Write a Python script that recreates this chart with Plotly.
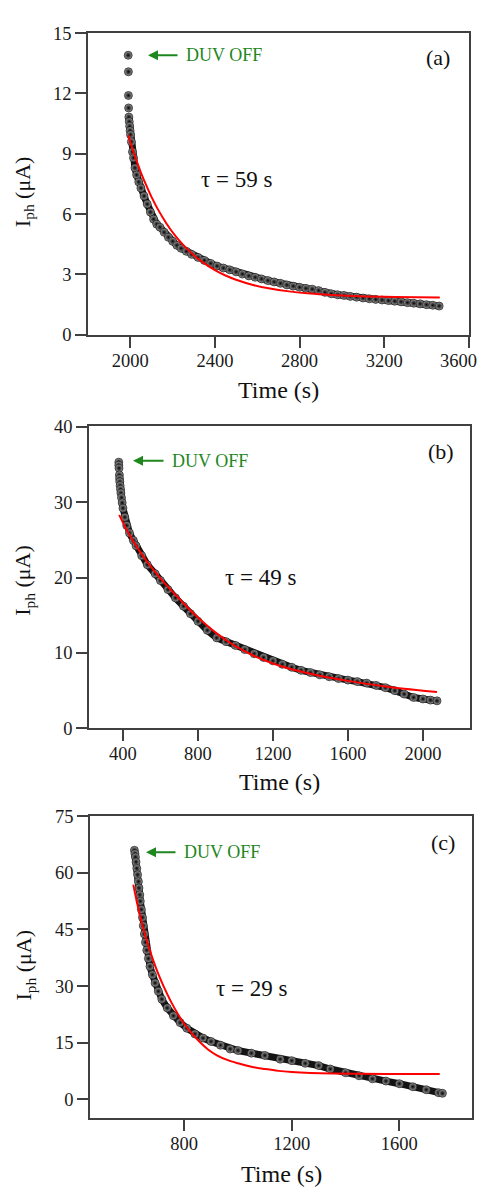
import plotly.graph_objects as go

W, H = 488, 1198
PAD = 8  # default page body margin
FW, FH = W - 2 * PAD, H - 2 * PAD

# ---------------- Panel (a) ----------------
a_time = [1990, 1991, 1991, 1992, 1993, 1995, 1997, 1999, 2001, 2005, 2010, 2015, 2022, 2030,
          2040, 2050, 2065, 2080, 2095, 2110, 2125, 2140, 2160, 2180, 2200, 2220, 2240, 2265,
          2290, 2320, 2350, 2380, 2410, 2440, 2470, 2500, 2530, 2560, 2590, 2620, 2650, 2680,
          2710, 2740, 2770, 2800, 2830, 2860, 2890, 2920, 2950, 2980, 3010, 3040, 3070, 3100,
          3130, 3160, 3190, 3220, 3250, 3280, 3310, 3340, 3370, 3400, 3430, 3460]
a_iph = [13.9, 13.08, 11.9, 11.28, 10.83, 10.6, 10.37, 10.15, 9.95, 9.6, 9.1, 8.8, 8.3, 7.95,
         7.6, 7.3, 6.9, 6.5, 6.1, 5.75, 5.5, 5.35, 5.1, 4.85, 4.65, 4.45, 4.3, 4.15,
         4.0, 3.85, 3.7, 3.55, 3.42, 3.32, 3.23, 3.13, 3.02, 2.93, 2.86, 2.78, 2.7, 2.63,
         2.56, 2.48, 2.42, 2.36, 2.31, 2.27, 2.2, 2.11, 2.04, 1.99, 1.96, 1.91, 1.87, 1.83,
         1.79, 1.76, 1.73, 1.7, 1.67, 1.64, 1.6, 1.57, 1.54, 1.5, 1.47, 1.43]
a_fit_time = [1990, 2010, 2030, 2050, 2075, 2100, 2130, 2170, 2210, 2250, 2300, 2350, 2400,
              2450, 2500, 2580, 2660, 2750, 2850, 2950, 3050, 3200, 3350, 3463]
a_fit_iph = [9.93, 9.25, 8.64, 8.07, 7.44, 6.86, 6.25, 5.55, 4.96, 4.47, 3.96, 3.55, 3.22,
             2.95, 2.74, 2.48, 2.3, 2.16, 2.05, 1.98, 1.93, 1.89, 1.87, 1.86]
a_xticks = [2000, 2400, 2800, 3200, 3600]
a_yticks = [0, 3, 6, 9, 12, 15]

# ---------------- Panel (b) ----------------
b_time = [378, 378, 379, 381, 382, 383, 385, 387, 389, 392, 396, 400, 410, 420, 435, 456,
          470, 500, 530, 572, 600, 640, 680, 723, 760, 800, 850, 900, 950, 1000, 1050, 1100,
          1150, 1200, 1250, 1300, 1350, 1400, 1450, 1500, 1550, 1600, 1650, 1700, 1750, 1800,
          1850, 1900, 1950, 2000, 2040, 2075]
b_iph = [35.3, 34.9, 34.5, 33.6, 33.1, 32.7, 32.2, 31.7, 31.2, 30.6, 29.9, 29.2, 28.0, 26.9,
         25.9, 24.9, 24.2, 22.9, 21.7, 20.5, 19.6, 18.4, 17.3, 16.2, 15.2, 14.2, 13.0, 12.0,
         11.5, 11.0, 10.45, 9.9, 9.4, 8.95, 8.5, 8.1, 7.7, 7.4, 7.1, 6.85, 6.6, 6.4, 6.2,
         6.0, 5.7, 5.4, 5.0, 4.55, 4.1, 3.9, 3.75, 3.65]
b_fit_time = [380, 420, 460, 500, 550, 600, 650, 700, 750, 800, 850, 900, 950, 1000, 1100,
              1200, 1300, 1400, 1500, 1600, 1700, 1800, 1900, 2000, 2075]
b_fit_iph = [28.3, 26.3, 24.6, 23.1, 21.4, 19.9, 18.5, 17.2, 15.9, 14.7, 13.6, 12.6, 11.7,
             10.9, 9.6, 8.6, 7.85, 7.25, 6.75, 6.3, 5.9, 5.55, 5.25, 5.0, 4.82]
b_xticks = [400, 800, 1200, 1600, 2000]
b_yticks = [0, 10, 20, 30, 40]

# ---------------- Panel (c) ----------------
c_time = [615, 617, 619, 621, 624, 627, 630, 632, 635, 637, 641, 645, 648, 652, 656, 661,
          667, 673, 682, 692, 704, 717, 737, 760, 785, 810, 840, 870, 900, 935, 971, 1000,
          1050, 1100, 1157, 1200, 1250, 1300, 1343, 1400, 1450, 1500, 1550, 1600, 1650,
          1700, 1746, 1760]
c_iph = [66.0, 65.1, 64.2, 62.9, 61.2, 59.5, 57.7, 56.0, 54.2, 52.5, 50.3, 48.2, 46.0, 43.8,
         41.6, 39.5, 37.3, 35.2, 33.0, 30.8, 28.6, 26.5, 24.2, 22.1, 20.3, 18.8, 17.3, 16.2,
         15.3, 14.3, 13.3, 12.9, 12.2, 11.6, 10.6, 10.2, 9.5, 8.9, 8.0, 7.0, 6.2, 5.4, 4.8,
         4.1, 3.3, 2.5, 1.7, 1.55]
c_fit_time = [611, 625, 640, 655, 670, 686, 705, 725, 750, 775, 800, 830, 860, 890, 920, 960,
              1000, 1050, 1100, 1150, 1200, 1270, 1350, 1450, 1600, 1750]
c_fit_iph = [56.9, 52.0, 47.5, 43.5, 40.0, 36.6, 33.0, 29.7, 26.0, 22.8, 20.0, 17.3, 15.0,
             13.1, 11.7, 10.4, 9.5, 8.6, 8.0, 7.5, 7.2, 6.95, 6.8, 6.72, 6.7, 6.7]
c_xticks = [800, 1200, 1600]
c_yticks = [0, 15, 30, 45, 60, 75]

panel_labels = ["(a)", "(b)", "(c)"]
tau_labels = ["τ = 59 s", "τ = 49 s", "τ = 29 s"]
duv_label = "DUV OFF"
x_title = "Time (s)"
y_title = "I<sub>ph</sub> (μA)"

FONT = "Liberation Serif"
GREEN = "#1e871e"
AXC = "#404040"
TICKC = "#1a1a1a"


def fx(p):
    return (p - PAD) / FW


def fy(p):
    return 1 - (p - PAD) / FH


panels = [
    dict(t=a_time, i=a_iph, ft=a_fit_time, fi=a_fit_iph, band=4, box=(88, 469, 24, 331),
         xr=[1800, 3601], yr=[0, 15.02], xt=a_xticks, yt=a_yticks,
         arrow=(148, 47), duv=(185, 47), lab=(438, 49), tau=(236, 173),
         xtit=(278, 387), ytit=(24, 186)),
    dict(t=b_time, i=b_iph, ft=b_fit_time, fi=b_fit_iph, band=3, box=(89, 470, 424, 731),
         xr=[219, 2251], yr=[0, 40.05], xt=b_xticks, yt=b_yticks,
         arrow=(133, 459), duv=(171, 459), lab=(441, 450), tau=(260, 578),
         xtit=(279, 786), ytit=(24, 581)),
    dict(t=c_time, i=c_iph, ft=c_fit_time, fi=c_fit_iph, band=0, box=(90, 472, 820, 1127),
         xr=[450, 1870], yr=[-5, 75.1], xt=c_xticks, yt=c_yticks,
         arrow=(146, 857), duv=(183, 857), lab=(443, 847), tau=(252, 995),
         xtit=(281, 1184), ytit=(25, 972)),
]

DUV_W = 78  # approx rendered width of the DUV OFF text in px

fig = go.Figure()
annotations = []
layout_axes = {}

for k, p in enumerate(panels):
    n = "" if k == 0 else str(k + 1)
    xa, ya = "x" + n, "y" + n
    l, r, t, b = p["box"]
    band = p["band"]
    # dense band drawn under the markers
    fig.add_trace(go.Scatter(x=p["t"][band:], y=p["i"][band:], xaxis=xa, yaxis=ya,
                             mode="lines", line=dict(color="#141414", width=7),
                             showlegend=False, hoverinfo="skip"))
    fig.add_trace(go.Scatter(x=p["t"], y=p["i"], xaxis=xa, yaxis=ya, mode="markers",
                             marker=dict(size=8, color="#a0a0a0",
                                         gradient=dict(type="radial", color="#000000"),
                                         line=dict(color="#000000", width=0.6)),
                             showlegend=False))
    fig.add_trace(go.Scatter(x=p["ft"], y=p["fi"], xaxis=xa, yaxis=ya, mode="lines",
                             line=dict(color="#ff0000", width=2, shape="spline"),
                             showlegend=False))
    common = dict(showline=True, linecolor=AXC, linewidth=1.5, mirror=True,
                  ticks="outside", ticklen=11, tickwidth=1.5, tickcolor=AXC,
                  showgrid=False, zeroline=False,
                  tickfont=dict(family=FONT, size=18.5, color=TICKC))
    layout_axes["xaxis" + n] = dict(domain=[fx(l), fx(r)], range=p["xr"], tickvals=p["xt"],
                                    anchor=ya, ticklabelstandoff=-3, **common)
    layout_axes["yaxis" + n] = dict(domain=[fy(b), fy(t)], range=p["yr"], tickvals=p["yt"],
                                    anchor=xa, **common)

    # arrow + "DUV OFF" label
    ax_, ay_ = p["arrow"]
    dx, dy = p["duv"]
    annotations.append(dict(x=fx(ax_), y=fy(ay_), xref="paper", yref="paper",
                            text=duv_label, showarrow=True,
                            ax=(dx + DUV_W / 2) - ax_, ay=0,
                            arrowhead=2, arrowsize=1, arrowwidth=2, arrowcolor=GREEN,
                            startstandoff=8, borderpad=0,
                            font=dict(family=FONT, size=18, color=GREEN)))
    lx, ly = p["lab"]
    annotations.append(dict(x=fx(lx), y=fy(ly), xref="paper", yref="paper",
                            text=panel_labels[k], showarrow=False, xanchor="center",
                            yanchor="middle", font=dict(family=FONT, size=22, color="#111")))
    tx, ty = p["tau"]
    annotations.append(dict(x=fx(tx), y=fy(ty), xref="paper", yref="paper",
                            text=tau_labels[k], showarrow=False, xanchor="center",
                            yanchor="middle", font=dict(family=FONT, size=23, color="#111")))
    xx, xy = p["xtit"]
    annotations.append(dict(x=fx(xx), y=fy(xy), xref="paper", yref="paper", text=x_title,
                            showarrow=False, xanchor="center", yanchor="middle",
                            font=dict(family=FONT, size=24, color="#111")))
    yx, yy = p["ytit"]
    annotations.append(dict(x=fx(yx), y=fy(yy), xref="paper", yref="paper", text=y_title,
                            showarrow=False, xanchor="center", yanchor="middle",
                            textangle=-90, font=dict(family=FONT, size=22, color="#111")))

# the last tick label of panel (a) sits on the page edge; plotly hides it, so it is
# written as a text kept inside the page
annotations.append(dict(x=fx(479), y=fy(358), xref="paper", yref="paper",
                        text=str(a_xticks[-1]), showarrow=False, xanchor="right",
                        yanchor="middle", font=dict(family=FONT, size=18.5, color=TICKC)))

fig.update_layout(width=FW, height=FH, autosize=False,
                  margin=dict(l=0, r=0, t=0, b=0),
                  paper_bgcolor="white", plot_bgcolor="white",
                  annotations=annotations, **layout_axes)

fig.write_html("out.html", config={"displayModeBar": False})
